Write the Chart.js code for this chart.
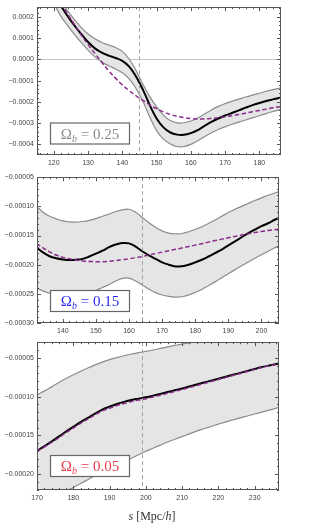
<!DOCTYPE html>
<html>
<head>
<meta charset="utf-8">
<script src="https://cdn.jsdelivr.net/npm/chart.js@4.4.1/dist/chart.umd.min.js"></script>
<style>
  body { margin: 0; background: #fff; }
  #wrap { position: relative; width: 310px; height: 523px; overflow: hidden; }
  canvas { position: absolute; left: 0; }
</style>
</head>
<body>
<div id="wrap">
  <canvas id="c1" width="310" height="170" style="top:0px"></canvas>
  <canvas id="c2" width="310" height="170" style="top:170px"></canvas>
  <canvas id="c3" width="310" height="188" style="top:335px"></canvas>
</div>
<script>
// all y values are in units of 1e-4 (tick labels convert back)

// --- Omega_b = 0.25 ---
const s1 = [120, 122, 124, 126, 128, 130, 132, 134, 136, 138, 140, 142, 144, 146, 148, 150, 152, 154,
  156, 158, 160, 162, 164, 166, 168, 170, 172, 174, 176, 178, 180, 182, 184, 186, 187];
const mid1 = [3.05, 2.55, 2.05, 1.6, 1.2, 0.82, 0.52, 0.32, 0.18, 0.07, -0.07, -0.34, -0.8, -1.42, -2.15, -2.78, -3.2, -3.44,
  -3.54, -3.55, -3.47, -3.33, -3.13, -2.94, -2.78, -2.64, -2.52, -2.4, -2.27, -2.15, -2.05, -1.96, -1.88, -1.8, -1.77];
const up1 = [3.2, 2.75, 2.3, 1.88, 1.5, 1.2, 0.97, 0.8, 0.68, 0.56, 0.38, 0.02, -0.52, -1.17, -1.75, -2.23, -2.62, -2.88,
  -2.99, -2.98, -2.9, -2.76, -2.57, -2.38, -2.21, -2.08, -1.97, -1.87, -1.77, -1.68, -1.59, -1.5, -1.42, -1.35, -1.32];
const lo1 = [2.65, 2.05, 1.6, 1.18, 0.8, 0.44, 0.12, -0.12, -0.3, -0.45, -0.63, -0.92, -1.37, -1.97, -2.7, -3.35, -3.75, -3.98,
  -4.1, -4.1, -4.0, -3.83, -3.63, -3.45, -3.3, -3.17, -3.05, -2.95, -2.85, -2.75, -2.65, -2.55, -2.45, -2.36, -2.33];
const fit1 = [3.2, 2.7, 2.15, 1.65, 1.15, 0.7, 0.28, -0.13, -0.53, -0.88, -1.2, -1.47, -1.71, -1.93, -2.14, -2.32, -2.47, -2.59,
  -2.68, -2.74, -2.78, -2.8, -2.8, -2.78, -2.75, -2.7, -2.65, -2.59, -2.53, -2.46, -2.4, -2.34, -2.28, -2.23, -2.21];

// --- Omega_b = 0.15 ---
const s2 = [132, 134, 136, 138, 140, 142, 144, 146, 148, 150, 152, 154, 156, 158, 160, 162, 164, 166, 168,
  170, 172, 174, 176, 178, 180, 182, 184, 186, 188, 190, 192, 194, 196, 198, 200, 202, 204, 206];
const mid2 = [-1.7, -1.79, -1.855, -1.89, -1.91, -1.92, -1.915, -1.9, -1.86, -1.81, -1.76, -1.7, -1.655, -1.63, -1.635, -1.69, -1.77, -1.84, -1.9,
  -1.96, -2.0, -2.03, -2.025, -2.0, -1.96, -1.915, -1.86, -1.8, -1.74, -1.67, -1.6, -1.53, -1.46, -1.4, -1.34, -1.29, -1.23, -1.18];
const up2 = [-1.0, -1.1, -1.17, -1.215, -1.25, -1.265, -1.27, -1.26, -1.24, -1.21, -1.17, -1.13, -1.09, -1.06, -1.05, -1.1, -1.19, -1.28, -1.36,
  -1.42, -1.46, -1.47, -1.465, -1.435, -1.395, -1.35, -1.295, -1.235, -1.17, -1.105, -1.05, -1.0, -0.95, -0.9, -0.855, -0.81, -0.77, -0.735];
const lo2 = [-2.4, -2.45, -2.49, -2.525, -2.55, -2.555, -2.55, -2.53, -2.49, -2.44, -2.39, -2.34, -2.28, -2.235, -2.23, -2.28, -2.35, -2.42, -2.48,
  -2.52, -2.545, -2.555, -2.55, -2.52, -2.475, -2.425, -2.36, -2.295, -2.225, -2.155, -2.085, -2.02, -1.955, -1.89, -1.83, -1.77, -1.71, -1.66];
const fit2 = [-1.64, -1.71, -1.78, -1.835, -1.875, -1.9, -1.92, -1.935, -1.945, -1.948, -1.948, -1.942, -1.93, -1.915, -1.9, -1.88, -1.86, -1.835, -1.81,
  -1.785, -1.76, -1.737, -1.713, -1.69, -1.665, -1.64, -1.613, -1.587, -1.562, -1.538, -1.515, -1.492, -1.47, -1.45, -1.43, -1.414, -1.4, -1.385];

// --- Omega_b = 0.05 ---
const s3 = [170, 172, 174, 176, 178, 180, 182, 184, 186, 188, 190, 192, 194, 196, 198, 200, 202,
  204, 206, 208, 210, 212, 214, 216, 218, 220, 222, 224, 226, 228, 230, 232, 234, 236.7];
const mid3 = [-1.7, -1.64, -1.58, -1.515, -1.45, -1.39, -1.33, -1.275, -1.22, -1.168, -1.13, -1.095, -1.068, -1.045, -1.027, -1.01, -0.988,
  -0.965, -0.942, -0.918, -0.895, -0.87, -0.845, -0.82, -0.795, -0.77, -0.745, -0.72, -0.695, -0.67, -0.645, -0.62, -0.6, -0.575];
const up3 = [-0.977, -0.93, -0.875, -0.82, -0.768, -0.72, -0.675, -0.632, -0.592, -0.556, -0.525, -0.498, -0.474, -0.452, -0.434, -0.418, -0.4,
  -0.38, -0.36, -0.342, -0.325, -0.31, -0.297, -0.286, -0.275, -0.265, -0.255, -0.245, -0.236, -0.227, -0.218, -0.21, -0.202, -0.19];
const lo3 = [-2.4, -2.355, -2.31, -2.262, -2.215, -2.17, -2.12, -2.07, -2.02, -1.975, -1.93, -1.885, -1.84, -1.795, -1.75, -1.705, -1.665,
  -1.625, -1.585, -1.55, -1.515, -1.48, -1.445, -1.415, -1.385, -1.355, -1.325, -1.3, -1.275, -1.25, -1.225, -1.2, -1.175, -1.14];
const fit3 = [-1.705, -1.65, -1.59, -1.53, -1.465, -1.405, -1.345, -1.29, -1.235, -1.185, -1.15, -1.115, -1.088, -1.065, -1.045, -1.028, -1.005,
  -0.982, -0.958, -0.933, -0.91, -0.884, -0.858, -0.832, -0.806, -0.78, -0.754, -0.728, -0.702, -0.676, -0.65, -0.625, -0.602, -0.577];

const omegaLabels = ['0.25', '0.15', '0.05'];
const vlines = [145, 164, 199];

const BAND_FILL = '#e5e5e5';
const BAND_EDGE = '#8c8c8c';
const PURPLE = '#8a2a8a';
const TICK_COLOR = '#444';
const SERIF = '"Liberation Serif", "DejaVu Serif", serif';

Chart.defaults.font.family = '"Liberation Sans", Arial, sans-serif';

// frame with inward ticks on all sides, reference lines, label box
const deco = {
  id: 'deco',
  beforeDatasetsDraw(chart, args, o) {
    if (o.hline === undefined) return;
    const {ctx, chartArea: a, scales: {y}} = chart;
    const py = Math.round(y.getPixelForValue(o.hline)) + 0.5;
    ctx.save();
    ctx.strokeStyle = '#c4c4c4';
    ctx.lineWidth = 1;
    ctx.beginPath(); ctx.moveTo(a.left, py); ctx.lineTo(a.right, py); ctx.stroke();
    ctx.restore();
  },
  afterDatasetsDraw(chart, args, o) {
    const {ctx, chartArea: a, scales: {x, y}} = chart;
    ctx.save();
    // dashed marker line
    const px = Math.round(x.getPixelForValue(o.vline)) + 0.5;
    ctx.strokeStyle = '#a0a0a0';
    ctx.lineWidth = 1;
    ctx.setLineDash([4, 3]);
    ctx.beginPath(); ctx.moveTo(px, a.top); ctx.lineTo(px, a.bottom); ctx.stroke();
    ctx.setLineDash([]);

    // frame
    ctx.strokeStyle = '#555';
    ctx.strokeRect(Math.round(a.left) + 0.5, Math.round(a.top) + 0.5,
      Math.round(a.right - a.left) - 1, Math.round(a.bottom - a.top) - 1);

    // ticks
    const marks = (scale, step, horiz) => {
      const minor = step / 5;
      const k0 = Math.ceil(scale.min / minor - 1e-6), k1 = Math.floor(scale.max / minor + 1e-6);
      ctx.beginPath();
      for (let k = k0; k <= k1; k++) {
        const len = (k % 5 === 0) ? 4 : 2;
        const p = Math.round(scale.getPixelForValue(k * minor)) + 0.5;
        if (horiz) {
          ctx.moveTo(p, a.bottom); ctx.lineTo(p, a.bottom - len);
          ctx.moveTo(p, a.top); ctx.lineTo(p, a.top + len);
        } else {
          ctx.moveTo(a.left, p); ctx.lineTo(a.left + len, p);
          ctx.moveTo(a.right, p); ctx.lineTo(a.right - len, p);
        }
      }
      ctx.stroke();
    };
    marks(x, x.options.ticks.stepSize, true);
    marks(y, y.options.ticks.stepSize, false);
    ctx.restore();
  },
  afterDraw(chart, args, o) {
    const {ctx, chartArea: a} = chart;
    ctx.save();
    // label box
    const bx = a.left + 13.5, by = a.bottom - o.boxBottom - 21, bw = 79, bh = 21;
    ctx.fillStyle = '#fff';
    ctx.fillRect(bx, by, bw, bh);
    ctx.strokeStyle = '#666';
    ctx.lineWidth = 1.2;
    ctx.strokeRect(bx, by, bw, bh);

    const big = '15px ' + SERIF, sub = 'italic 10px ' + SERIF;
    const rest = ' = ' + o.label;
    ctx.font = big; const wO = ctx.measureText('\u03A9').width, wR = ctx.measureText(rest).width;
    ctx.font = sub; const wB = ctx.measureText('b').width;
    let tx = bx + bw / 2 - (wO + wB + wR) / 2;
    const ty = by + 15.5;
    ctx.fillStyle = o.color;
    ctx.textBaseline = 'alphabetic';
    ctx.font = big; ctx.fillText('\u03A9', tx, ty); tx += wO;
    ctx.font = sub; ctx.fillText('b', tx, ty + 3); tx += wB;
    ctx.font = big; ctx.fillText(rest, tx, ty);

    // x axis title (bottom panel only)
    if (o.title) {
      const parts = [['s', true], [' [Mpc/', false], ['h', true], [']', false]];
      let w = 0;
      parts.forEach(([t, it]) => { ctx.font = (it ? 'italic ' : '') + '12px ' + SERIF; w += ctx.measureText(t).width; });
      let cx = 152 - w / 2;
      ctx.fillStyle = '#333';
      parts.forEach(([t, it]) => {
        ctx.font = (it ? 'italic ' : '') + '12px ' + SERIF;
        ctx.fillText(t, cx, o.titleY);
        cx += ctx.measureText(t).width;
      });
    }
    ctx.restore();
  }
};

const fmt = d => v => (v * 1e-4).toFixed(d).replace('-', '\u2212');

function makeChart(id, p) {
  const pts = arr => p.s.map((s, i) => ({x: s, y: arr[i]}));
  return new Chart(document.getElementById(id), {
    type: 'line',
    data: {
      datasets: [
        { data: pts(p.up), borderColor: BAND_EDGE, borderWidth: 1.2, backgroundColor: BAND_FILL, fill: '+1', order: 4 },
        { data: pts(p.lo), borderColor: BAND_EDGE, borderWidth: 1.2, fill: false, order: 3 },
        { data: pts(p.mid), borderColor: '#000', borderWidth: 2, fill: false, order: 2 },
        { data: pts(p.fit), borderColor: PURPLE, borderWidth: 1.5, borderDash: [4.5, 2.5], fill: false, order: 1 }
      ]
    },
    options: {
      responsive: false,
      animation: false,
      layout: { padding: { top: p.padTop, right: p.padRight, bottom: 0, left: 0 } },
      elements: {
        point: { radius: 0 },
        line: { tension: 0.4 }
      },
      plugins: {
        legend: { display: false },
        tooltip: { enabled: false },
        deco: { vline: p.vline, hline: p.hline, label: p.label, color: p.color,
          boxBottom: p.boxBottom, title: p.title, titleY: p.titleY }
      },
      scales: {
        x: {
          type: 'linear', min: p.xMin, max: p.xMax,
          grid: { display: false, drawTicks: false }, border: { display: false },
          ticks: { stepSize: 10, includeBounds: false, autoSkip: false, maxRotation: 0, padding: 4,
            color: TICK_COLOR, font: { size: 7 }, callback: v => String(v) },
          afterFit: s => { s.height = p.xAxisH; }
        },
        y: {
          min: p.yMin, max: p.yMax,
          grid: { display: false, drawTicks: false }, border: { display: false },
          ticks: { stepSize: p.yStep, includeBounds: false, autoSkip: false, padding: 3,
            color: TICK_COLOR, font: { size: 7 }, callback: fmt(p.dec) },
          afterFit: s => { s.width = 37; }
        }
      }
    },
    plugins: [deco]
  });
}

makeChart('c1', { s: s1, up: up1, lo: lo1, mid: mid1, fit: fit1,
  xMin: 115.1, xMax: 186.3, yMin: -4.5, yMax: 2.46, yStep: 1, dec: 4,
  padTop: 5, padRight: 29, xAxisH: 15, vline: vlines[0], hline: 0,
  label: omegaLabels[0], color: '#8a8a8a', boxBottom: 11 });

makeChart('c2', { s: s2, up: up2, lo: lo2, mid: mid2, fit: fit2,
  xMin: 132.2, xMax: 205.3, yMin: -3.0, yMax: -0.5, yStep: 0.5, dec: 5,
  padTop: 5, padRight: 31, xAxisH: 17, vline: vlines[1],
  label: omegaLabels[1], color: '#2b2bf0', boxBottom: 11.5 });

makeChart('c3', { s: s3, up: up3, lo: lo3, mid: mid3, fit: fit3,
  xMin: 170, xMax: 236.7, yMin: -2.203, yMax: -0.30, yStep: 0.5, dec: 5,
  padTop: 5, padRight: 31, xAxisH: 33, vline: vlines[2],
  label: omegaLabels[2], color: '#e83a4a', boxBottom: 13.5, title: true, titleY: 185 });
</script>
</body>
</html>
